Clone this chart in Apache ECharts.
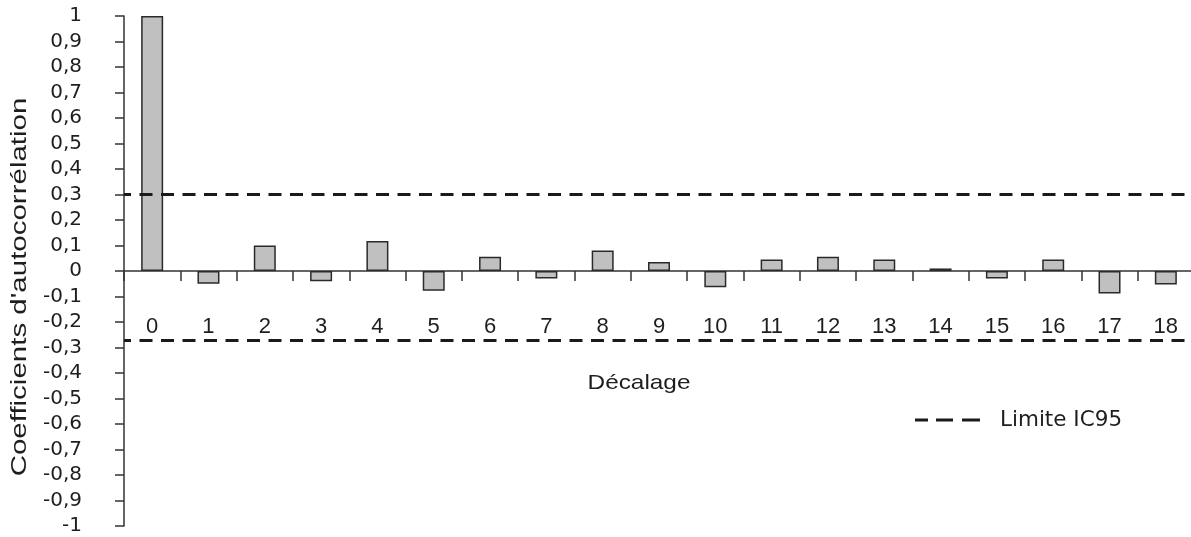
<!DOCTYPE html>
<html>
<head>
<meta charset="utf-8">
<script src="https://cdn.jsdelivr.net/npm/echarts@6/dist/echarts.min.js"></script>
<style>
html,body{margin:0;padding:0;background:#fff;}
#chart{width:1191px;height:537px;}
</style>
</head>
<body>
<div id="chart"></div>
<script>
const categories = ['0','1','2','3','4','5','6','7','8','9','10','11','12','13','14','15','16','17','18'];
const acfValues = [1, -0.05, 0.10, -0.04, 0.118, -0.077, 0.056, -0.029, 0.08, 0.035, -0.064, 0.045, 0.056, 0.045, 0.01, -0.029, 0.045, -0.088, -0.053];
const ciUpper = 0.305;
const ciLower = -0.266;
const yTicks = { min: -1, max: 1, step: 0.1 };
const yAxisTitle = "Coefficients d'autocorrélation";
const xAxisTitle = 'Décalage';
const legendLabel = 'Limite IC95';

const font = '"Liberation Sans", Arial, sans-serif';
const wideFont = '"DejaVu Sans", sans-serif';
const ink = '#1e1e1e';

const chart = echarts.init(document.getElementById('chart'), null, {renderer: 'canvas'});
chart.setOption({
  animation: false,
  backgroundColor: '#fff',
  grid: { left: 124, right: -3, top: 16, bottom: 11, containLabel: false, outerBoundsMode: 'none' },
  legend: {
    show: true,
    left: 915,
    top: 409,
    padding: 0,
    data: [{ name: legendLabel, icon: 'path://M0,0h13v3h-13zM21,0h17v3h-17zM47,0h18v3h-18z' }],
    itemWidth: 65,
    itemHeight: 3,
    textStyle: { fontFamily: wideFont, fontSize: 21.5, color: ink, padding: [0, 0, 0, 15] },
    selectedMode: false
  },
  xAxis: [
    {
      type: 'category',
      data: categories,
      axisLine: { onZero: true, lineStyle: { color: '#333', width: 1.5 } },
      axisTick: { show: true, length: 10, lineStyle: { color: '#333', width: 1.5 } },
      axisLabel: { show: false },
      splitLine: { show: false }
    },
    {
      type: 'category',
      data: categories,
      position: 'bottom',
      offset: -255,
      axisLine: { show: false, onZero: false },
      axisTick: { show: false },
      axisLabel: { margin: 45, fontFamily: font, fontSize: 22, color: ink },
      splitLine: { show: false }
    }
  ],
  yAxis: {
    type: 'value',
    min: yTicks.min,
    max: yTicks.max,
    interval: yTicks.step,
    axisLine: { show: true, lineStyle: { color: '#333', width: 1.5 } },
    axisTick: { show: true, length: 9, lineStyle: { color: '#333', width: 1.5 } },
    axisLabel: {
      margin: 42,
      fontFamily: wideFont,
      fontSize: 20,
      color: ink,
      formatter: v => String(Math.round(v * 10) / 10).replace('.', ',')
    },
    splitLine: { show: false }
  },
  graphic: [
    {
      type: 'text',
      x: 639,
      y: 383,
      scaleX: 1.16,
      style: { text: xAxisTitle, fontFamily: font, fontSize: 21, fill: ink, align: 'center', verticalAlign: 'middle' }
    },
    {
      type: 'text',
      x: 20,
      y: 287,
      rotation: Math.PI / 2,
      scaleX: 1.34,
      style: { text: yAxisTitle, fontFamily: font, fontSize: 22, fill: ink, align: 'center', verticalAlign: 'middle' }
    }
  ],
  series: [
    {
      type: 'bar',
      name: 'ACF',
      data: acfValues,
      barWidth: 22,
      itemStyle: { color: '#c0c0c0', borderColor: '#2a2a2a', borderWidth: 1.5 },
      silent: true
    },
    {
      type: 'line',
      name: legendLabel,
      data: [],
      color: '#1a1a1a',
      lineStyle: { color: '#1a1a1a', type: [13, 8.5], width: 3 },
      markLine: {
        silent: true,
        symbol: ['none', 'none'],
        label: { show: false },
        lineStyle: { color: '#1a1a1a', type: [13, 8.5], dashOffset: 6, width: 3 },
        data: [{ yAxis: ciUpper }, { yAxis: ciLower }]
      }
    }
  ]
});
</script>
</body>
</html>
